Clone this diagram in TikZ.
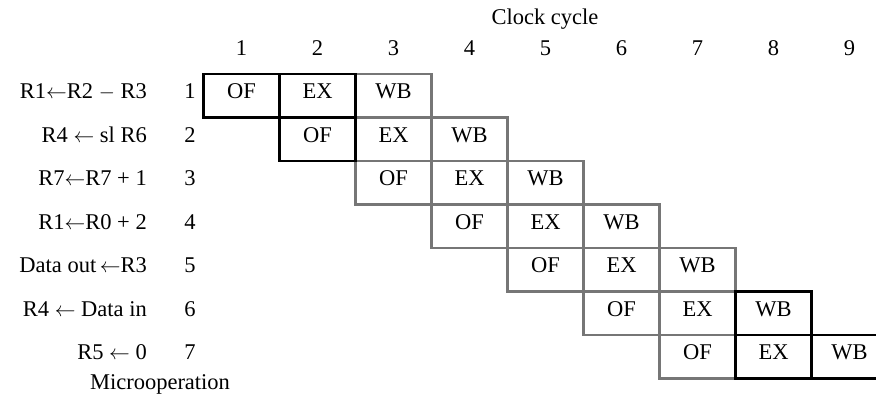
\documentclass[tikz,border=0pt]{standalone}
\usepackage{fontspec}
\setmainfont{Liberation Serif}
\definecolor{pgray}{HTML}{767676}
\begin{document}
\begin{tikzpicture}[x=1pt,y=-1pt,
  every node/.style={font=\fontsize{22.5}{26}\selectfont, inner sep=0pt, text height=1.45ex, text depth=0.25ex},
  cell/.style={minimum width=76pt, minimum height=43.5pt, outer sep=0pt, anchor=center},
  graybox/.style={draw=pgray, line width=2.3pt},
  blackbox/.style={draw=black, line width=2.3pt},
  lbl/.style={anchor=east},
  num/.style={anchor=center}]
\useasboundingbox (0,0) rectangle (876,401);
% header
\node (clock) at (545,22) {Clock cycle};
\foreach \c in {1,...,9} {
  \node (h\c) at ({241.5+76*(\c-1)},53) {\c};
}
% row labels
\node[lbl] (l1) at (147,95.75) {R1$\leftarrow$R2 $-$ R3};
\node[lbl] (l2) at (147,139.25) {R4 $\leftarrow$ sl R6};
\node[lbl] (l3) at (147,182.75) {R7$\leftarrow$R7 + 1};
\node[lbl] (l4) at (147,226.25) {R1$\leftarrow$R0 + 2};
\node[lbl] (l5) at (147,269.75) {Data out$\,\leftarrow$R3};
\node[lbl] (l6) at (147,313.25) {R4 $\leftarrow$ Data in};
\node[lbl] (l7) at (147,356.75) {R5 $\leftarrow$ 0};
\foreach \r in {1,...,7} {
  \node[num] (n\r) at (190,{95.75+43.5*(\r-1)}) {\r};
}
\node (micro) at (160,387) {Microoperation};
% cells
\foreach \r in {1,...,7} {
  \node[cell] (of\r) at ({241.5+76*(\r-1)},{95.75+43.5*(\r-1)}) {OF};
  \node[cell] (ex\r) at ({241.5+76*\r},{95.75+43.5*(\r-1)}) {EX};
  \node[cell] (wb\r) at ({241.5+76*(\r+1)},{95.75+43.5*(\r-1)}) {WB};
}
% borders: gray first, then black on top
\foreach \n in {of3,of4,of5,of6,of7,ex2,ex3,ex4,ex5,ex6,wb1,wb2,wb3,wb4,wb5} {
  \draw[graybox] (\n.north west) rectangle (\n.south east);
}
\foreach \n in {of1,ex1,of2,wb6,ex7,wb7} {
  \draw[blackbox] (\n.north west) rectangle (\n.south east);
}
\end{tikzpicture}
\end{document}
